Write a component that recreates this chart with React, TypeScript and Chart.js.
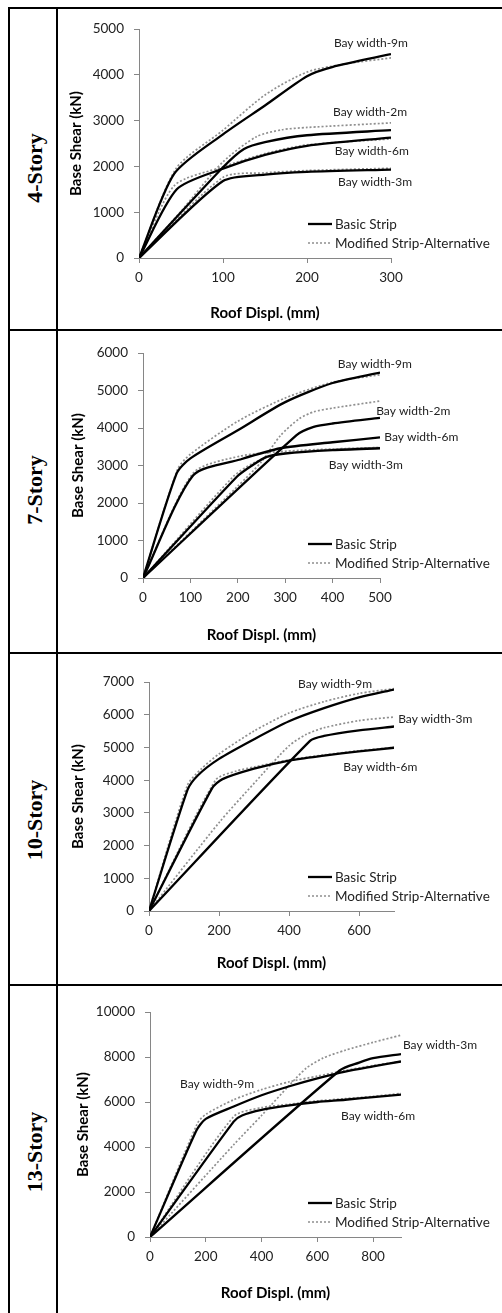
import React, { useEffect, useRef } from "react";
import { Chart, registerables } from "chart.js";

Chart.register(...registerables);

const FONT = "Lato, 'Open Sans', sans-serif";

type Pt = [number, number];

// ---------- 4-Story ----------
const s4Basic9m: Pt[] = [[0, 0], [42, 1840], [100, 2700], [150, 3330], [200, 3970], [230, 4170], [300, 4450]];
const s4Mod9m: Pt[] = [[0, 0], [44, 1950], [100, 2790], [150, 3560], [200, 4060], [250, 4250], [300, 4370]];
const s4Basic2m: Pt[] = [[0, 0], [100, 1980], [125, 2380], [150, 2530], [200, 2680], [300, 2790]];
const s4Mod2m: Pt[] = [[0, 0], [50, 1020], [100, 2100], [140, 2650], [170, 2800], [200, 2850], [300, 2950]];
const s4Basic6m: Pt[] = [[0, 0], [45, 1500], [100, 1950], [150, 2250], [200, 2450], [300, 2630]];
const s4Mod6m: Pt[] = [[0, 0], [42, 1580], [100, 1990], [150, 2280], [200, 2470], [300, 2600]];
const s4Basic3m: Pt[] = [[0, 0], [100, 1680], [150, 1820], [200, 1880], [300, 1930]];
const s4Mod3m: Pt[] = [[0, 0], [100, 1760], [150, 1860], [200, 1910], [300, 1960]];
const s4XTicks = [0, 100, 200, 300];
const s4YTicks = [0, 1000, 2000, 3000, 4000, 5000];
const s4Notes = [
  { text: "Bay width-9m", x: 232, y: 4694 },
  { text: "Bay width-2m", x: 231, y: 3188 },
  { text: "Bay width-6m", x: 233, y: 2336 },
  { text: "Bay width-3m", x: 237, y: 1659 },
];

// ---------- 7-Story ----------
const s7Basic9m: Pt[] = [[0, 0], [71, 2790], [100, 3190], [200, 3940], [300, 4690], [400, 5200], [500, 5480]];
const s7Mod9m: Pt[] = [[0, 0], [73, 2900], [100, 3300], [200, 4180], [300, 4800], [400, 5220], [500, 5420]];
const s7Basic2m: Pt[] = [[0, 0], [324, 3810], [360, 4030], [400, 4120], [500, 4270]];
const s7Mod2m: Pt[] = [[0, 0], [200, 2450], [250, 3100], [290, 3800], [330, 4250], [360, 4430], [400, 4530], [500, 4720]];
const s7Basic6m: Pt[] = [[0, 0], [106, 2740], [205, 3160], [290, 3460], [400, 3620], [500, 3750]];
const s7Mod6m: Pt[] = [[0, 0], [106, 2800], [205, 3250], [300, 3380], [400, 3440], [500, 3480]];
const s7Basic3m: Pt[] = [[0, 0], [198, 2700], [230, 3000], [261, 3230], [300, 3320], [400, 3410], [500, 3460]];
const s7Mod3m: Pt[] = [[0, 0], [190, 2700], [230, 3050], [270, 3250], [300, 3330], [400, 3430], [500, 3480]];
const s7XTicks = [0, 100, 200, 300, 400, 500];
const s7YTicks = [0, 1000, 2000, 3000, 4000, 5000, 6000];
const s7Notes = [
  { text: "Bay width-9m", x: 411, y: 5707 },
  { text: "Bay width-2m", x: 492, y: 4453 },
  { text: "Bay width-6m", x: 509, y: 3760 },
  { text: "Bay width-3m", x: 392, y: 3013 },
];

// ---------- 10-Story ----------
const s10Basic9m: Pt[] = [[0, 0], [110, 3700], [140, 4150], [200, 4650], [300, 5250], [400, 5800], [500, 6200], [600, 6530], [700, 6770]];
const s10Mod9m: Pt[] = [[0, 0], [110, 3850], [150, 4350], [200, 4800], [300, 5500], [400, 6050], [500, 6400], [600, 6650], [700, 6800]];
const s10Basic6m: Pt[] = [[0, 0], [180, 3750], [210, 4030], [300, 4350], [400, 4600], [500, 4750], [600, 4880], [700, 4990]];
const s10Mod6m: Pt[] = [[0, 0], [190, 4000], [250, 4280], [300, 4400], [400, 4620], [500, 4770], [600, 4900], [700, 5000]];
const s10Basic3m: Pt[] = [[0, 0], [460, 5200], [500, 5350], [600, 5520], [700, 5640]];
const s10Mod3m: Pt[] = [[0, 0], [200, 2700], [300, 3900], [400, 5050], [450, 5400], [500, 5600], [600, 5820], [700, 5930]];
const s10XTicks = [0, 200, 400, 600];
const s10YTicks = [0, 1000, 2000, 3000, 4000, 5000, 6000, 7000];
const s10Notes = [
  { text: "Bay width-9m", x: 426, y: 6940 },
  { text: "Bay width-3m", x: 712, y: 5870 },
  { text: "Bay width-6m", x: 555, y: 4402 },
];

// ---------- 13-Story ----------
const s13Basic9m: Pt[] = [[0, 0], [165, 4700], [200, 5250], [300, 5800], [400, 6300], [500, 6700], [600, 7050], [700, 7350], [800, 7580], [900, 7800]];
const s13Mod9m: Pt[] = [[0, 0], [170, 5050], [200, 5450], [300, 6100], [400, 6550], [500, 6900], [600, 7150], [700, 7400], [800, 7620], [900, 7800]];
const s13Basic6m: Pt[] = [[0, 0], [300, 5130], [330, 5400], [400, 5650], [500, 5850], [600, 6000], [700, 6100], [800, 6220], [900, 6330]];
const s13Mod6m: Pt[] = [[0, 0], [300, 5350], [400, 5750], [500, 5900], [600, 6050], [700, 6150], [800, 6250], [900, 6380]];
const s13Basic3m: Pt[] = [[0, 0], [680, 7400], [750, 7750], [800, 7950], [900, 8130]];
const s13Mod3m: Pt[] = [[0, 0], [300, 4100], [400, 5400], [500, 6750], [560, 7500], [620, 7950], [700, 8300], [800, 8650], [900, 8970]];
const s13XTicks = [0, 200, 400, 600, 800];
const s13YTicks = [0, 2000, 4000, 6000, 8000, 10000];
const s13Notes = [
  { text: "Bay width-3m", x: 907, y: 8533 },
  { text: "Bay width-9m", x: 108, y: 6800 },
  { text: "Bay width-6m", x: 685, y: 5378 },
];

const LEGEND_BASIC = "Basic Strip";
const LEGEND_MOD = "Modified Strip-Alternative";
const X_TITLE = "Roof Displ. (mm)";
const Y_TITLE = "Base Shear (kN)";

interface Geom { top: number; h: number; l: number; r: number; t: number; b: number; yTitleX: number; xTitleY: number; labelY: number }
interface Panel {
  label: string;
  basic: Pt[][];
  modified: Pt[][];
  notes: { text: string; x: number; y: number }[];
  xMax: number; yMax: number;
  xTicks: number[]; yTicks: number[];
  g: Geom;
}

const W = 444;

const panels: Panel[] = [
  {
    label: "4-Story",
    basic: [s4Basic9m, s4Basic2m, s4Basic6m, s4Basic3m],
    modified: [s4Mod9m, s4Mod2m, s4Mod6m, s4Mod3m],
    notes: s4Notes, xMax: 300, yMax: 5000, xTicks: s4XTicks, yTicks: s4YTicks,
    g: { top: 9, h: 320, l: 81, r: 333, t: 20, b: 249, yTitleX: 18, xTitleY: 304, labelY: 168 },
  },
  {
    label: "7-Story",
    basic: [s7Basic9m, s7Basic2m, s7Basic6m, s7Basic3m],
    modified: [s7Mod9m, s7Mod2m, s7Mod6m, s7Mod3m],
    notes: s7Notes, xMax: 500, yMax: 6000, xTicks: s7XTicks, yTicks: s7YTicks,
    g: { top: 331, h: 321, l: 85, r: 322, t: 22, b: 247, yTitleX: 20, xTitleY: 304, labelY: 490 },
  },
  {
    label: "10-Story",
    basic: [s10Basic9m, s10Basic6m, s10Basic3m],
    modified: [s10Mod9m, s10Mod6m, s10Mod3m],
    notes: s10Notes, xMax: 700, yMax: 7000, xTicks: s10XTicks, yTicks: s10YTicks,
    g: { top: 654, h: 330, l: 91, r: 336, t: 28, b: 257, yTitleX: 20, xTitleY: 309, labelY: 820 },
  },
  {
    label: "13-Story",
    basic: [s13Basic9m, s13Basic6m, s13Basic3m],
    modified: [s13Mod9m, s13Mod6m, s13Mod3m],
    notes: s13Notes, xMax: 900, yMax: 10000, xTicks: s13XTicks, yTicks: s13YTicks,
    g: { top: 986, h: 327, l: 92, r: 343, t: 26, b: 251, yTitleX: 25, xTitleY: 307, labelY: 1152 },
  },
];

const AXIS = "#868686";
const TEXT = "#222";
const DOT = "#8f8f8f";
const TITLE_SIZE = 15;
const TITLE_LH = TITLE_SIZE * 1.2;
const TICK_SIZE = 13.5;

function PanelChart({ p }: { p: Panel }) {
  const ref = useRef<HTMLCanvasElement>(null);
  useEffect(() => {
    const canvas = ref.current;
    if (!canvas) return;
    const g = p.g;
    const datasets: any[] = [];
    p.basic.forEach((c) =>
      datasets.push({
        data: c.map(([x, y]) => ({ x, y })),
        borderColor: "#000",
        borderWidth: 2.3,
        pointRadius: 0,
        tension: 0.25,
        fill: false,
      })
    );
    p.modified.forEach((c) =>
      datasets.push({
        data: c.map(([x, y]) => ({ x, y })),
        borderColor: DOT,
        borderWidth: 1.7,
        borderDash: [2, 2],
        pointRadius: 0,
        tension: 0.25,
        fill: false,
      })
    );

    const overlay = {
      id: "overlay",
      afterDraw(chart: any) {
        const { ctx, chartArea, scales } = chart;
        const xs = scales.x;
        const ys = scales.y;
        ctx.save();
        ctx.fillStyle = TEXT;
        ctx.textBaseline = "middle";
        ctx.textAlign = "left";
        ctx.font = `12px ${FONT}`;
        p.notes.forEach((n) => {
          ctx.fillText(n.text, xs.getPixelForValue(n.x), ys.getPixelForValue(n.y));
        });
        // legend
        const lx = 250;
        const y1 = chartArea.bottom - 34;
        const y2 = chartArea.bottom - 15;
        ctx.strokeStyle = "#000";
        ctx.lineWidth = 2.3;
        ctx.beginPath();
        ctx.moveTo(lx, y1);
        ctx.lineTo(lx + 24, y1);
        ctx.stroke();
        ctx.strokeStyle = DOT;
        ctx.lineWidth = 1.7;
        ctx.setLineDash([2, 2]);
        ctx.beginPath();
        ctx.moveTo(lx, y2);
        ctx.lineTo(lx + 22, y2);
        ctx.stroke();
        ctx.setLineDash([]);
        ctx.font = `13.5px ${FONT}`;
        ctx.fillStyle = TEXT;
        ctx.fillText(LEGEND_BASIC, lx + 27, y1 + 1);
        ctx.fillText(LEGEND_MOD, lx + 27, y2 + 1);
        ctx.restore();
      },
    };

    const chart = new Chart(canvas, {
      type: "line",
      data: { datasets },
      options: {
        animation: false,
        responsive: false,
        maintainAspectRatio: false,
        layout: { padding: { left: g.yTitleX - TITLE_LH / 2, top: g.t, right: W - g.r, bottom: 0 } },
        plugins: { legend: { display: false }, tooltip: { enabled: false } },
        scales: {
          x: {
            type: "linear",
            min: 0,
            max: p.xMax,
            afterBuildTicks: (s: any) => {
              s.ticks = p.xTicks.map((v) => ({ value: v }));
            },
            afterFit: (s: any) => {
              s.height = g.h - g.b;
            },
            grid: { drawOnChartArea: false, drawTicks: true, tickLength: 5, color: AXIS },
            border: { display: true, color: AXIS, width: 1 },
            ticks: {
              autoSkip: false,
              maxRotation: 0,
              padding: 7,
              color: TEXT,
              font: { family: FONT, size: TICK_SIZE },
              callback: (v: any) => String(v),
            },
            title: {
              display: true,
              text: X_TITLE,
              color: "#000",
              font: { family: FONT, size: TITLE_SIZE, weight: "bold" },
              padding: { top: 0, bottom: g.h - g.xTitleY - TITLE_LH / 2 },
            },
          },
          y: {
            type: "linear",
            min: 0,
            max: p.yMax,
            afterBuildTicks: (s: any) => {
              s.ticks = p.yTicks.map((v) => ({ value: v }));
            },
            afterFit: (s: any) => {
              s.width = g.l - (g.yTitleX - TITLE_LH / 2);
            },
            grid: { drawOnChartArea: false, drawTicks: true, tickLength: 5, color: AXIS },
            border: { display: true, color: AXIS, width: 1 },
            ticks: {
              autoSkip: false,
              padding: 10,
              color: TEXT,
              font: { family: FONT, size: TICK_SIZE },
              callback: (v: any) => String(v),
            },
            title: {
              display: true,
              text: Y_TITLE,
              color: "#000",
              font: { family: FONT, size: TITLE_SIZE, weight: "bold" },
              padding: { top: 0, bottom: 0 },
            },
          },
        },
      } as any,
      plugins: [overlay],
    });
    return () => chart.destroy();
  }, [p]);
  return (
    <canvas
      ref={ref}
      width={W}
      height={p.g.h}
      style={{ position: "absolute", left: 58, top: p.g.top, width: W, height: p.g.h, display: "block" }}
    />
  );
}

const line = (left: number, top: number, width: number, height: number) => (
  <div style={{ position: "absolute", left, top, width, height, background: "#000" }} />
);

export default function App() {
  return (
    <div style={{ position: "absolute", left: 0, top: 0, width: 502, height: 1313, overflow: "hidden", background: "#fff" }}>
      {panels.map((p, i) => (
        <PanelChart key={i} p={p} />
      ))}
      {panels.map((p, i) => (
        <div
          key={"l" + i}
          style={{
            position: "absolute",
            left: 35,
            top: p.g.labelY,
            transform: "translate(-50%, -50%) rotate(-90deg)",
            fontFamily: "'Liberation Serif', 'Times New Roman', serif",
            fontWeight: "bold",
            fontSize: 22,
            whiteSpace: "nowrap",
            lineHeight: 1,
          }}
        >
          {p.label}
        </div>
      ))}
      {line(8, 7, 494, 2)}
      {line(8, 7, 2, 1306)}
      {line(56, 7, 2, 1306)}
      {line(8, 329, 494, 2)}
      {line(8, 652, 494, 2)}
      {line(8, 984, 494, 2)}
    </div>
  );
}
